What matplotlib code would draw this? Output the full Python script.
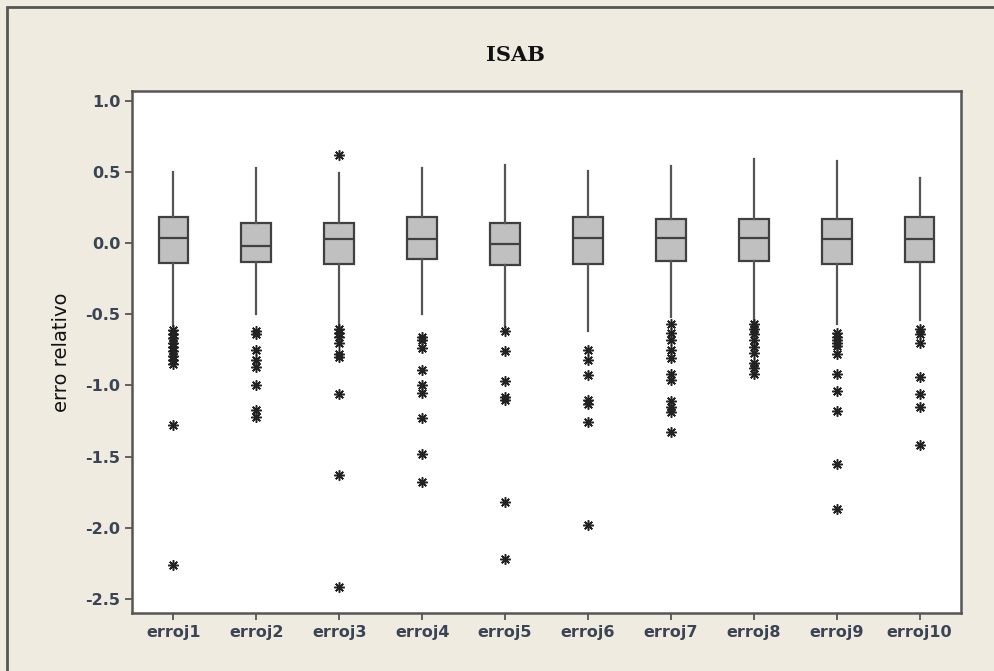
import matplotlib
matplotlib.use('Agg')
import matplotlib.pyplot as plt
from matplotlib.ticker import FormatStrFormatter
from matplotlib.patches import Rectangle

plt.rcParams['axes.unicode_minus'] = False

labels = ['erroj1', 'erroj2', 'erroj3', 'erroj4', 'erroj5',
          'erroj6', 'erroj7', 'erroj8', 'erroj9', 'erroj10']

q1 = [-0.136, -0.134, -0.143, -0.113, -0.155, -0.143, -0.125, -0.125, -0.143, -0.134]
med = [0.037, -0.021, 0.026, 0.026, -0.009, 0.037, 0.037, 0.037, 0.026, 0.026]
q3 = [0.185, 0.143, 0.143, 0.185, 0.143, 0.185, 0.167, 0.167, 0.167, 0.185]
whis_lo = [-0.58, -0.50, -0.58, -0.50, -0.59, -0.62, -0.52, -0.55, -0.57, -0.54]
whis_hi = [0.50, 0.53, 0.49, 0.53, 0.55, 0.51, 0.54, 0.59, 0.58, 0.46]

outliers = [
    [-0.61, -0.64, -0.67, -0.70, -0.73, -0.76, -0.79, -0.82, -0.85, -1.28, -2.26],
    [-0.62, -0.64, -0.75, -0.82, -0.87, -1.00, -1.17, -1.22],
    [0.62, -0.60, -0.63, -0.66, -0.70, -0.78, -0.80, -1.06, -1.63, -2.42],
    [-0.66, -0.68, -0.74, -0.89, -1.00, -1.05, -1.23, -1.48, -1.68],
    [-0.62, -0.76, -0.97, -1.08, -1.10, -1.82, -2.22],
    [-0.75, -0.82, -0.93, -1.10, -1.13, -1.26, -1.98],
    [-0.57, -0.63, -0.68, -0.75, -0.81, -0.92, -0.96, -1.11, -1.15, -1.19, -1.33],
    [-0.57, -0.60, -0.64, -0.68, -0.73, -0.77, -0.84, -0.88, -0.92],
    [-0.63, -0.66, -0.68, -0.70, -0.72, -0.78, -0.92, -1.04, -1.18, -1.55, -1.87],
    [-0.60, -0.64, -0.70, -0.94, -1.06, -1.15, -1.42],
]

stats = []
for i in range(len(labels)):
    stats.append({'label': labels[i], 'q1': q1[i], 'med': med[i], 'q3': q3[i],
                  'whislo': whis_lo[i], 'whishi': whis_hi[i], 'fliers': outliers[i]})

bg = '#efebe1'
edge = '#404040'
tick_col = '#3b4454'

fig = plt.figure(figsize=(9.95, 6.71), dpi=100, facecolor=bg)
# frame line along the top and left of the panel
fig.patches.append(Rectangle((7 / 995, -0.05), 1.2, 1 - 7 / 671 + 0.05, transform=fig.transFigure,
                             fill=False, edgecolor='#555555', linewidth=2, zorder=0))

ax = fig.add_axes([132 / 995, 1 - 613 / 671, (961 - 132) / 995, (613 - 91) / 671])
ax.set_facecolor('white')

ax.bxp(stats, positions=range(1, 11), widths=0.36, patch_artist=True, showcaps=False,
       boxprops=dict(facecolor='#c0c0c0', edgecolor=edge, linewidth=1.6),
       medianprops=dict(color=edge, linewidth=1.6),
       whiskerprops=dict(color='#555555', linewidth=1.6),
       flierprops=dict(marker=(8, 2, 0), markersize=7.5, markeredgecolor='#222222',
                       markeredgewidth=1.1, linestyle='none'))

ax.set_xlim(0.5, 10.5)
ax.set_ylim(-2.6, 1.07)
ax.set_yticks([1.0, 0.5, 0.0, -0.5, -1.0, -1.5, -2.0, -2.5])
ax.yaxis.set_major_formatter(FormatStrFormatter('%.1f'))
ax.set_xticks(range(1, 11))
ax.set_xticklabels(labels)

for s in ax.spines.values():
    s.set_color('#555555')
    s.set_linewidth(1.8)

ax.tick_params(axis='both', direction='out', length=5, width=1.3, color='#555555',
               labelcolor=tick_col, labelsize=11.5)
for t in ax.get_xticklabels() + ax.get_yticklabels():
    t.set_fontweight('bold')

ax.set_ylabel('erro relativo', fontsize=14, color='#111111', labelpad=10)
fig.text(515 / 995, 1 - 55 / 671, 'ISAB', ha='center', va='center', fontsize=15,
         fontweight='bold', family='DejaVu Serif', color='#111111')

fig.savefig('out.png', dpi=100, facecolor=bg)
